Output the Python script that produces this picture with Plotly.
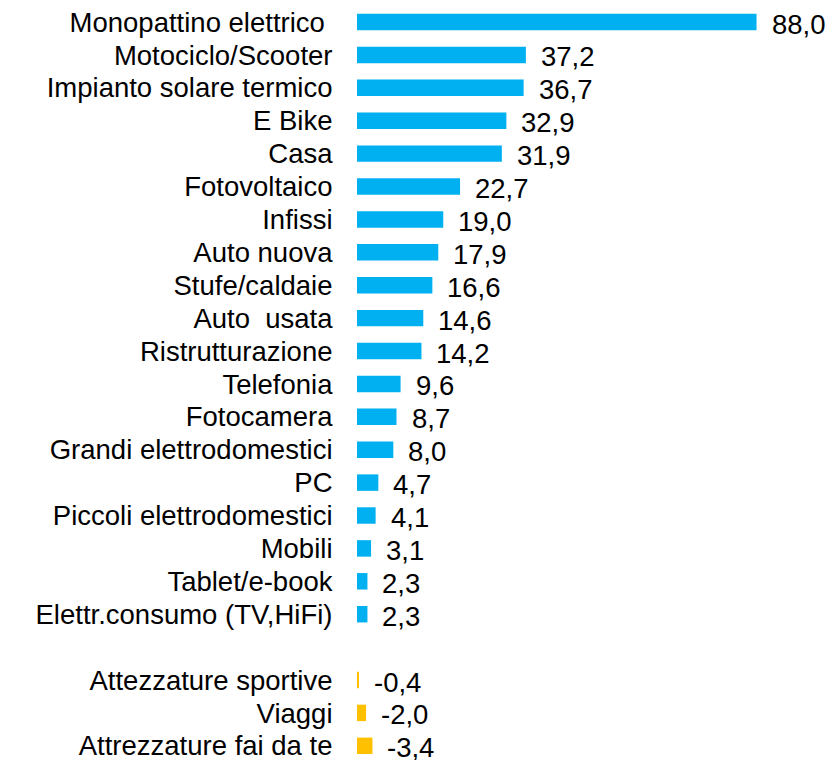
import plotly.graph_objects as go

categories = [
    "Monopattino elettrico\u00a0", "Motociclo/Scooter", "Impianto solare termico", "E Bike",
    "Casa", "Fotovoltaico", "Infissi", "Auto nuova", "Stufe/caldaie", "Auto\u00a0 usata",
    "Ristrutturazione", "Telefonia", "Fotocamera", "Grandi elettrodomestici", "PC",
    "Piccoli elettrodomestici", "Mobili", "Tablet/e-book", "Elettr.consumo (TV,HiFi)",
    "\u00a0",
    "Attezzature sportive", "Viaggi", "Attrezzature fai da te",
]
values = [88.0, 37.2, 36.7, 32.9, 31.9, 22.7, 19.0, 17.9, 16.6, 14.6, 14.2, 9.6, 8.7, 8.0,
          4.7, 4.1, 3.1, 2.3, 2.3, None, -0.4, -2.0, -3.4]

BLUE = "#00B0F0"
YELLOW = "#FFC000"

lengths = [abs(v) if v is not None else None for v in values]
colors = [(BLUE if (v is not None and v >= 0) else YELLOW) for v in values]
labels = ["" if v is None else f"{v:.1f}".replace(".", ",") for v in values]

FONT = "Liberation Sans, Arial, sans-serif"
FS = 27.5

fig = go.Figure()
fig.add_trace(go.Bar(
    x=lengths, y=categories, orientation="h",
    marker=dict(color=colors, line=dict(width=0)),
    width=0.5, hoverinfo="skip",
))

for c, l, t in zip(categories, lengths, labels):
    if l is None:
        continue
    fig.add_annotation(x=l, y=c, text=t, showarrow=False, xanchor="left",
                       xshift=13, yshift=-2, font=dict(family=FONT, size=FS, color="#000"))

W, H = 831, 760
row = 32.9
top_px = 22
lo = -top_px / row
hi = (H - top_px) / row
L = 357

fig.update_layout(
    width=W, height=H,
    margin=dict(l=L, r=0, t=0, b=0, autoexpand=False),
    paper_bgcolor="white", plot_bgcolor="white",
    showlegend=False,
    font=dict(family=FONT, size=FS, color="#000"),
    xaxis=dict(range=[0, (W - L) / 4.54], visible=False, fixedrange=True, automargin=False),
    yaxis=dict(
        type="category", categoryorder="array", categoryarray=categories,
        tickmode="array", tickvals=categories, ticktext=categories,
        range=[hi, lo], showgrid=False, zeroline=False, showline=False,
        automargin=False, fixedrange=True,
        ticks="outside", ticklen=18, tickcolor="rgba(0,0,0,0)",
        tickfont=dict(family=FONT, size=FS, color="#000"),
    ),
)

fig.write_html(
    "out.html",
    config={"displayModeBar": False},
    post_script=(
        "document.documentElement.style.overflow='hidden';"
        "document.body.style.overflow='hidden';"
        "document.body.style.margin='0';"
    ),
)
